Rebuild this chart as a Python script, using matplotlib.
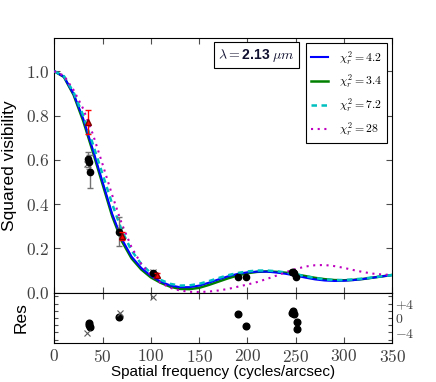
import matplotlib
matplotlib.use("Agg")
import matplotlib.pyplot as plt
from matplotlib.ticker import FixedLocator, FuncFormatter

plt.rcParams['mathtext.fontset'] = 'cm'
plt.rcParams['font.family'] = ['Liberation Sans', 'DejaVu Sans']

# model curves
freq = [0, 10, 20, 30, 40, 50, 60, 70, 80, 90, 100, 110, 120, 130, 140, 150, 160, 170,
        180, 190, 200, 210, 220, 230, 240, 250, 260, 270, 280, 290, 300, 310, 320, 330, 340, 350]
v_blue = [1.0, 0.975, 0.897, 0.785, 0.645, 0.50, 0.355, 0.242, 0.163, 0.112, 0.076, 0.050, 0.033,
          0.025, 0.025, 0.032, 0.045, 0.060, 0.074, 0.085, 0.092, 0.095, 0.095, 0.091, 0.085,
          0.077, 0.068, 0.060, 0.055, 0.053, 0.054, 0.057, 0.062, 0.068, 0.074, 0.080]
v_green = [1.0, 0.974, 0.893, 0.775, 0.635, 0.49, 0.345, 0.232, 0.155, 0.105, 0.069, 0.045, 0.027,
           0.017, 0.016, 0.022, 0.035, 0.050, 0.065, 0.078, 0.088, 0.094, 0.096, 0.094, 0.090,
           0.083, 0.075, 0.067, 0.061, 0.057, 0.056, 0.058, 0.062, 0.068, 0.074, 0.080]
v_cyan = [1.0, 0.978, 0.905, 0.80, 0.67, 0.535, 0.40, 0.28, 0.19, 0.13, 0.088, 0.058, 0.040,
          0.032, 0.033, 0.040, 0.052, 0.066, 0.079, 0.089, 0.096, 0.100, 0.100, 0.097, 0.091,
          0.083, 0.074, 0.066, 0.060, 0.057, 0.057, 0.060, 0.064, 0.069, 0.075, 0.080]
v_mag = [1.0, 0.98, 0.915, 0.83, 0.715, 0.58, 0.44, 0.31, 0.205, 0.13, 0.08, 0.045, 0.022,
         0.010, 0.004, 0.003, 0.005, 0.010, 0.017, 0.027, 0.037, 0.048, 0.062, 0.077, 0.093,
         0.107, 0.118, 0.124, 0.125, 0.120, 0.112, 0.102, 0.093, 0.086, 0.082, 0.080]
labels = [r'$\chi^2_r=4.2$', r'$\chi^2_r=3.4$', r'$\chi^2_r=7.2$', r'$\chi^2_r=28$']

# measurements
blk_x = [35.0, 35.5, 36.5, 67.0, 101.8, 190.5, 198.4, 246.5, 247.5, 248.5, 250.5]
blk_y = [0.602, 0.590, 0.546, 0.275, 0.090, 0.071, 0.070, 0.094, 0.092, 0.088, 0.073]
blk_e = [0.035, 0.030, 0.075, 0.065, 0.010, 0.004, 0.004, 0.004, 0.004, 0.004, 0.004]
crs_x = [34.2, 68.0, 102.5]
crs_y = [0.58, 0.285, 0.092]
red_x = [35.0, 70.5, 106.0]
red_y = [0.77, 0.256, 0.080]
red_e = [0.055, 0.020, 0.010]

# residuals
res_bx = [35.5, 36.0, 36.5, 67.3, 190.5, 198.4, 246.5, 247.5, 248.5, 250.9, 250.9]
res_by = [-1.4, -2.0, -2.4, 0.4, 1.2, -2.3, 1.5, 2.0, 1.0, -1.1, -3.0]
res_cx = [34.2, 68.0, 102.5]
res_cy = [-4.2, 1.4, 5.8]

fig = plt.figure(figsize=(4.36, 3.82), dpi=100)
ax = fig.add_axes([0.1245, 0.2338, 0.7753, 0.6667])
axr = fig.add_axes([0.1245, 0.1013, 0.7753, 0.1325])

lg, = ax.plot(freq, v_green, color='#008000', lw=1.8, zorder=3)
lb, = ax.plot(freq, v_blue, color='#0000ff', lw=1.5, zorder=4)
lc, = ax.plot(freq, v_cyan, color='#00bfbf', lw=1.8, ls=(0, (2.2, 1.8)), zorder=5)
lm, = ax.plot(freq, v_mag, color='#bf00bf', lw=1.5, ls=(0, (1, 2.2)), zorder=6)

ax.errorbar(blk_x, blk_y, yerr=blk_e, fmt='o', color='black', ms=4.5, ecolor='0.45',
            elinewidth=1, capsize=2, zorder=7)
ax.plot(crs_x, crs_y, 'x', color='0.35', ms=4, mew=0.8, zorder=7)
ax.errorbar(red_x, red_y, yerr=red_e, fmt='^', color='red', ms=4.5, ecolor='red',
            mec='#800000', elinewidth=1, capsize=2, zorder=8)

ax.set_xlim(0, 350)
ax.set_ylim(0, 1.15)
ax.xaxis.set_major_locator(FixedLocator([0, 50, 100, 150, 200, 250, 300, 350]))
ax.yaxis.set_major_locator(FixedLocator([0, 0.2, 0.4, 0.6, 0.8, 1.0]))
ax.yaxis.set_major_formatter(FuncFormatter(lambda v, p: f'${v:.1f}$'))
ax.tick_params(direction='in', top=True, right=True, labelbottom=False, length=4,
               labelsize=12.5, labelcolor='0.25', color='0.3')
ax.set_ylabel('Squared visibility', fontsize=12.5)

leg = ax.legend([lb, lg, lc, lm], labels, loc='upper right', fontsize=8.5, fancybox=False,
                edgecolor='black', framealpha=1, handlelength=1.4, handletextpad=0.9,
                borderaxespad=0.45, labelspacing=0.5, borderpad=0.45)
leg.get_frame().set_linewidth(0.8)

ax.text(0.598, 0.933, r'$\lambda=$2.13 $\mu m$', transform=ax.transAxes, ha='center', va='center',
        fontsize=10, fontweight='bold', color='#101030', zorder=10,
        bbox=dict(boxstyle='square,pad=0.3', fc='white', ec='black', lw=0.8))

axr.plot(res_bx, res_by, 'o', color='black', ms=4.8)
axr.plot(res_cx, res_cy, 'x', color='0.35', ms=5, mew=0.8)
axr.set_xlim(0, 350)
axr.set_ylim(-7, 7)
axr.xaxis.set_major_locator(FixedLocator([0, 50, 100, 150, 200, 250, 300, 350]))
axr.xaxis.set_major_formatter(FuncFormatter(lambda v, p: f'${int(v)}$'))
axr.yaxis.set_major_locator(FixedLocator([-6, -4, -2, 0, 2, 4, 6]))
axr.yaxis.set_major_formatter(FuncFormatter(
    lambda v, p: {4: '$+4$', 0: '$0$', -4: '$-4$'}.get(int(round(v)), '')))
axr.tick_params(direction='in', top=True, right=True, labelleft=False, labelright=True,
                length=4, labelsize=12.5, labelcolor='0.25', color='0.3')
axr.tick_params(axis='y', labelsize=10, length=3, pad=2)
axr.set_ylabel('Res', fontsize=12.5)
axr.set_xlabel('Spatial frequency (cycles/arcsec)', fontsize=11, labelpad=0)
axr.yaxis.set_label_coords(-0.075, 0.5)
ax.yaxis.set_label_coords(-0.11, 0.5)

fig.savefig('out.png', dpi=100)
